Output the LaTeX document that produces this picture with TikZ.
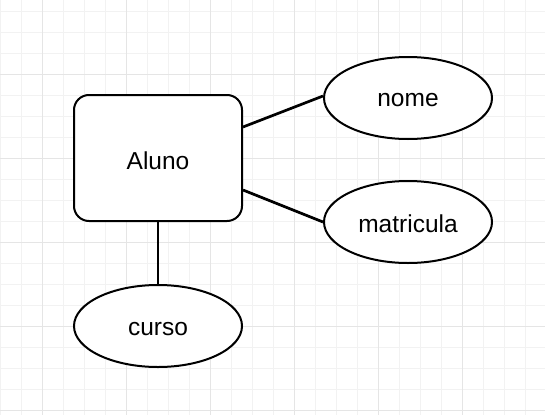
\documentclass[tikz,border=0pt]{standalone}
\usepackage{fontspec}
\setmainfont{Liberation Sans}
\usetikzlibrary{shapes.geometric}
\tikzset{
  minorgrid/.style={draw=black!5, line width=0.8},
  majorgrid/.style={draw=black!10, line width=0.8},
  lbl/.style={font=\fontsize{24.5}{28}\selectfont},
  entity/.style={draw=black, fill=white, line width=2, rounded corners=15,
    minimum width=168, minimum height=126, inner sep=0},
  attr/.style={draw=black, fill=white, line width=2, ellipse, inner sep=0,
    minimum width=168, minimum height=82},
  link/.style={draw=black, line width=2.7}
}
\begin{document}
\begin{tikzpicture}[x=1pt, y=-1pt]
\useasboundingbox (0,0) rectangle (545,415);
\fill[white] (0,0) rectangle (545,415);
\foreach \i in {0,...,25} { \draw[minorgrid] (21*\i,0) -- (21*\i,415); }
\foreach \j in {0,...,19} { \draw[minorgrid] (0,11+21*\j) -- (545,11+21*\j); }
\foreach \i in {0,...,5} { \draw[majorgrid] (42+84*\i,0) -- (42+84*\i,415); }
\foreach \j in {0,...,4} { \draw[majorgrid] (0,74+84*\j) -- (545,74+84*\j); }

\node[entity] (aluno) at (158,158) {};
\node[attr] (nome) at (408,98) {};
\node[attr] (matricula) at (408,222) {};
\node[attr] (curso) at (158,326) {};
\node[lbl] (alunoT) at (158,161) {Aluno};
\node[lbl] (nomeT) at (408,100) {nome};
\node[lbl] (matriculaT) at (408,224) {matricula};
\node[lbl] (cursoT) at (158,329) {curso};

\draw[link] ([yshift=31pt]aluno.east) -- ([yshift=2pt]nome.west);
\draw[link] ([yshift=-32pt]aluno.east) -- (matricula.west);
\draw[link] (aluno.south) -- (curso.north);
\end{tikzpicture}
\end{document}
